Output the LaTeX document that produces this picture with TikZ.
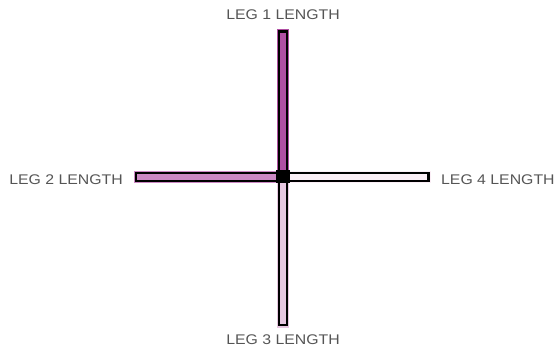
\documentclass[tikz,border=0pt]{standalone}
\usepackage{fontspec}
\setmainfont{Liberation Sans}[FakeStretch=1.13]
\usetikzlibrary{positioning}

\definecolor{legone}{HTML}{B04FA3}
\definecolor{legtwo}{HTML}{CC88C4}
\definecolor{legthree}{HTML}{E6C6E0}
\definecolor{legfour}{HTML}{FBEEF6}
\definecolor{lblgray}{HTML}{555555}

\tikzset{
  lbl/.style={text=lblgray, font=\fontsize{14}{16}\selectfont, inner sep=0pt},
  legbar/.style={draw=black, line width=2.4pt, inner sep=0pt, fill=#1,
    preaction={draw=#1, line width=5pt}},
}

\begin{document}
\begin{tikzpicture}[x=1pt, y=1pt]
  \useasboundingbox (0,0) rectangle (558,-353);

  \node[lbl] (l1) at (283,-15) {LEG 1 LENGTH};
  \node[lbl] (l3) at (283,-340) {LEG 3 LENGTH};
  \node[lbl, anchor=east] (l2) at (123,-180) {LEG 2 LENGTH};
  \node[lbl, anchor=west] (l4) at (441,-180) {LEG 4 LENGTH};

  \node[legbar=legone, minimum width=7.5, minimum height=145] (leg1) at (283,-104) {};
  \node[legbar=legthree, minimum width=7.5, minimum height=146] (leg3) at (283,-252) {};
  \node[legbar=legtwo, minimum width=146, minimum height=7.5] (leg2) at (209,-177) {};
  \node[legbar=legfour, minimum width=143, minimum height=7.5] (leg4) at (357,-177) {};

  \node[fill=black, minimum width=14, minimum height=13, inner sep=0pt] (hub) at (283,-177) {};
\end{tikzpicture}
\end{document}
